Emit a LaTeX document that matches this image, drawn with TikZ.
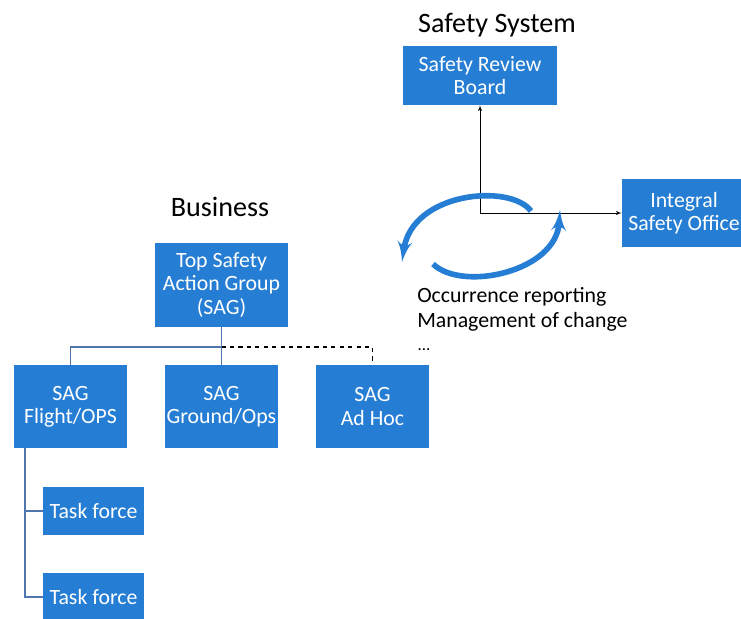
\documentclass[tikz,border=0pt]{standalone}
\usepackage{xcolor}
\usepackage{fontspec}
\setmainfont{Carlito}
\usepackage{tikz}
\usetikzlibrary{calc}
\usetikzlibrary{arrows}
\tikzset{>=latex'}
\definecolor{boxblue}{RGB}{38,126,212}
\definecolor{treeblue}{RGB}{80,118,176}
\tikzset{
  unit/.style={fill=boxblue,text=white,align=center,inner sep=1pt,
    font=\fontsize{15.5}{16.6}\selectfont},
  branch/.style={draw=treeblue,line width=0.8pt},
  title/.style={font=\fontsize{20}{23}\selectfont},
  cycle/.style={draw=boxblue,line width=4pt,-latex'}
}

\begin{document}
\begin{tikzpicture}[x=0.025cm,y=-0.025cm]
	\useasboundingbox (0,0) rectangle (741,618);
	% safety system
	\node[title] (systitle) at (497,25) {Safety System};
	\node[unit,minimum width=3.85cm,minimum height=1.475cm] (srb) at (480,75.5) {Safety Review\\Board};
	\node[unit,minimum width=3.1cm,minimum height=1.7cm] (iso) at (684,213) {Integral\\Safety Office};
	\coordinate (hub) at (480,213);
	\draw[->] (hub) -- (srb);
	\draw[->] (hub) -- (iso);
	\draw[cycle] (531,211) .. controls (510,183) and (412,192) .. (402,262);
	\draw[cycle] (433,264) .. controls (462,292) and (556,272) .. (560,210);
	\node[anchor=north west,align=left,inner sep=0pt,font=\fontsize{15.5}{17.8}\selectfont] (occ) at (417,287) {Occurrence reporting\\Management of change};
	% business
	\node[title] (bustitle) at (220,207) {Business};
	\node[unit,minimum width=3.325cm,minimum height=2.1cm] (top) at (221.5,285) {Top Safety\\Action Group\\(SAG)};
	\node[unit,minimum width=2.825cm,minimum height=2.075cm] (flight) at (70.5,406.5) {SAG\\Flight/OPS};
	\node[unit,minimum width=2.825cm,minimum height=2.075cm] (ground) at (221.5,406.5) {SAG\\Ground/Ops};
	\node[unit,minimum width=2.825cm,minimum height=2.075cm] (adhoc) at (372.5,406.5) {SAG\\Ad Hoc};
	\node[inner sep=0pt,font=\fontsize{12}{14}\selectfont] (more) at (424,350) {...};
	\coordinate (split) at (221.5,347);
	\draw[branch] (top) -- (ground);
	\draw[branch] (split) -| (flight);
	\draw[dashed,line width=0.8pt] (split) -| (adhoc);
	% task forces
	\node[unit,minimum width=2.525cm,minimum height=1.2cm] (tf1) at (93.5,511) {Task force};
	\node[unit,minimum width=2.525cm,minimum height=1.2cm] (tf2) at (93.5,597) {Task force};
	\coordinate (tfroot) at (25,448);
	\draw[branch] (tfroot) |- (tf1);
	\draw[branch] (tfroot) |- (tf2);
\end{tikzpicture}
\end{document}
